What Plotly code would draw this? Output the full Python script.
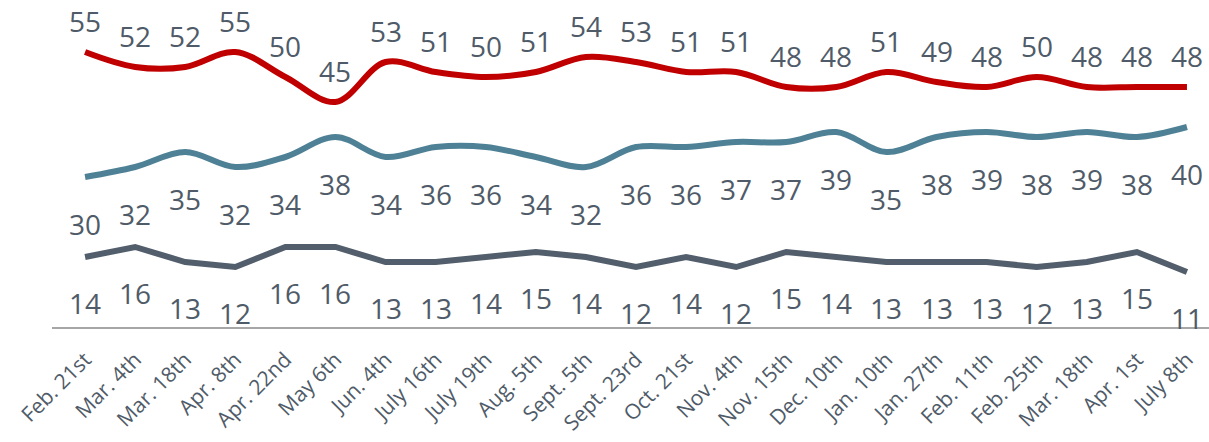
import plotly.graph_objects as go

dates = ["Feb. 21st", "Mar. 4th", "Mar. 18th", "Apr. 8th", "Apr. 22nd", "May 6th",
         "Jun. 4th", "July 16th", "July 19th", "Aug. 5th", "Sept. 5th", "Sept. 23rd",
         "Oct. 21st", "Nov. 4th", "Nov. 15th", "Dec. 10th", "Jan. 10th", "Jan. 27th",
         "Feb. 11th", "Feb. 25th", "Mar. 18th", "Apr. 1st", "July 8th"]
series_red = [55, 52, 52, 55, 50, 45, 53, 51, 50, 51, 54, 53, 51, 51, 48, 48, 51, 49, 48, 50, 48, 48, 48]
series_blue = [30, 32, 35, 32, 34, 38, 34, 36, 36, 34, 32, 36, 36, 37, 37, 39, 35, 38, 39, 38, 39, 38, 40]
series_gray = [14, 16, 13, 12, 16, 16, 13, 13, 14, 15, 14, 12, 14, 12, 15, 14, 13, 13, 13, 12, 13, 15, 11]

x = list(range(len(dates)))
TEXT_COLOR = "#4f5b68"
FONT = "Open Sans, Lato, sans-serif"

fig = go.Figure()
specs = [
    (series_red, "#C00000", "spline", 31),
    (series_blue, "#4F8196", "spline", -47),
    (series_gray, "#525E6B", "linear", -46),
]
annotations = []
for vals, color, shape, shift in specs:
    fig.add_trace(go.Scatter(
        x=x, y=vals, mode="lines",
        line=dict(color=color, width=6, shape=shape),
        hoverinfo="skip", showlegend=False,
    ))
    for xi, v in zip(x, vals):
        annotations.append(dict(
            x=xi, y=v, text=str(v), showarrow=False, yshift=shift,
            xref="x", yref="y",
            font=dict(family=FONT, size=28, color=TEXT_COLOR),
        ))

fig.update_layout(
    width=1209, height=442,
    margin=dict(l=52, r=0, t=0, b=115),
    paper_bgcolor="white", plot_bgcolor="white",
    annotations=annotations,
    font=dict(family=FONT, color=TEXT_COLOR),
    xaxis=dict(
        range=[-0.66, 22.44],
        tickmode="array", tickvals=x, ticktext=dates,
        tickangle=-45, tickfont=dict(size=21, color=TEXT_COLOR, family=FONT),
        ticklabelstandoff=10,
        showgrid=False, zeroline=False,
        showline=True, linecolor="#A6A6A6", linewidth=2,
        ticks="", fixedrange=True,
    ),
    yaxis=dict(
        range=[0, 65.4], visible=False, showgrid=False, zeroline=False, fixedrange=True,
    ),
)

fig.write_html(
    "out.html",
    config={"displayModeBar": False},
    post_script="document.body.style.margin='0';document.body.style.overflow='hidden';",
)
